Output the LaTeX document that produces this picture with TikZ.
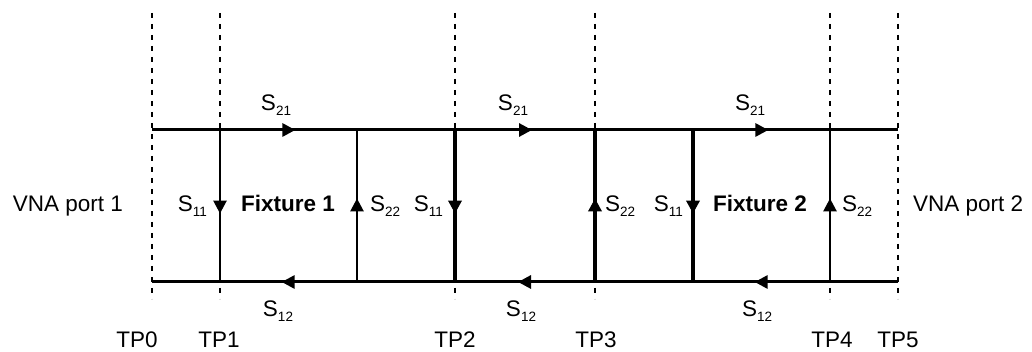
\documentclass[tikz,border=0pt]{standalone}
\usepackage{fontspec}
\setmainfont{Liberation Sans}
\usetikzlibrary{arrows.meta,decorations.markings}
% S-parameter label with a small lowered index
\newcommand\sparam[1]{S\raisebox{-4.5pt}{\fontsize{13.5}{14}\selectfont #1}}

\begin{document}
\begin{tikzpicture}[x=1pt,y=1pt,
  font=\fontsize{22.5}{26}\selectfont,
  lbl/.style={inner sep=0pt},
  wire/.style={line width=3pt},
  thinleg/.style={line width=2.5pt},
  thickleg/.style={line width=4pt},
  refplane/.style={line width=2.6pt,dash pattern=on 5.5pt off 5.5pt},
  flow/.style={postaction={decorate},
    decoration={markings,
      mark=at position 0.55 with {\arrow{Triangle[length=13pt,width=13pt]}}}}]
\useasboundingbox (0,0) rectangle (1032,352);

% junctions on the forward (top) and return (bottom) lines
\foreach \n/\x in {0/152,1/220,2/455,3/595,4/830,5/898}{
  \coordinate (t\n) at (\x,222);
  \coordinate (b\n) at (\x,70);
  \coordinate (u\n) at (\x,339);
  \coordinate (d\n) at (\x,53);
}
\coordinate (ta) at (357,222); \coordinate (ba) at (357,70);
\coordinate (tb) at (693,222); \coordinate (bb) at (693,70);

% reference planes
\foreach \n in {0,...,5}{\draw[refplane] (u\n) -- (d\n);}

% forward path
\draw[wire] (t0) -- (t1);
\draw[wire,flow] (t1) -- (ta);
\draw[wire] (ta) -- (t2);
\draw[wire,flow] (t2) -- (t3);
\draw[wire] (t3) -- (tb);
\draw[wire,flow] (tb) -- (t4);
\draw[wire] (t4) -- (t5);

% return path
\draw[wire] (b5) -- (b4);
\draw[wire,flow] (b4) -- (bb);
\draw[wire] (bb) -- (b3);
\draw[wire,flow] (b3) -- (b2);
\draw[wire] (b2) -- (ba);
\draw[wire,flow] (ba) -- (b1);
\draw[wire] (b1) -- (b0);

% reflection branches
\draw[thinleg,flow]  (t1) -- (b1);
\draw[thinleg,flow]  (ba) -- (ta);
\draw[thickleg,flow] (t2) -- (b2);
\draw[thickleg,flow] (b3) -- (t3);
\draw[thickleg,flow] (tb) -- (bb);
\draw[thinleg,flow]  (b4) -- (t4);

% transmission labels
\node[lbl,anchor=base] (s21a) at (276,241) {\sparam{21}};
\node[lbl,anchor=base] (s21b) at (513,241) {\sparam{21}};
\node[lbl,anchor=base] (s21c) at (750,241) {\sparam{21}};
\node[lbl,anchor=base] (s12a) at (278,35) {\sparam{12}};
\node[lbl,anchor=base] (s12b) at (521,35) {\sparam{12}};
\node[lbl,anchor=base] (s12c) at (757,35) {\sparam{12}};

% reflection labels
\node[lbl,anchor=base east] (s11a) at (207,140) {\sparam{11}};
\node[lbl,anchor=base west] (s22a) at (370,140) {\sparam{22}};
\node[lbl,anchor=base east] (s11b) at (443,140) {\sparam{11}};
\node[lbl,anchor=base west] (s22b) at (605,140) {\sparam{22}};
\node[lbl,anchor=base east] (s11c) at (683,140) {\sparam{11}};
\node[lbl,anchor=base west] (s22c) at (842,140) {\sparam{22}};

% fixtures and ports
\node[lbl,anchor=base] (fx1) at (288,140) {\bfseries Fixture 1};
\node[lbl,anchor=base] (fx2) at (760,140) {\bfseries Fixture 2};
\node[lbl,anchor=base] (port1) at (68,140) {VNA port 1};
\node[lbl,anchor=base west] (port2) at (913,140) {VNA port 2};

% test point names
\foreach \n/\x in {0/137,1/219,2/455,3/596,4/832,5/898}{
  \node[lbl,anchor=base] (tp\n) at (\x,4) {TP\n};
}
\end{tikzpicture}
\end{document}
